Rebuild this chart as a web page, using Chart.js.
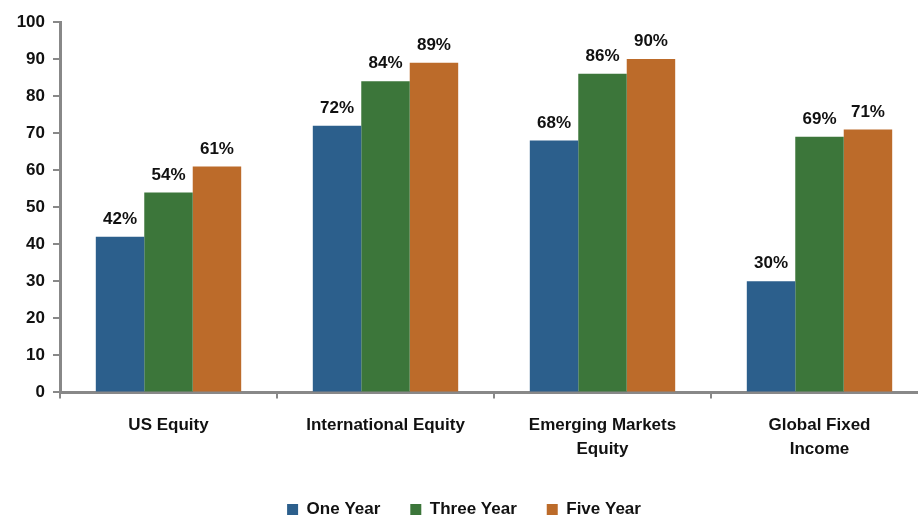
<!DOCTYPE html>
<html><head><meta charset="utf-8">
<script src="https://cdn.jsdelivr.net/npm/chart.js@4/dist/chart.umd.min.js"></script>
<style>html,body{margin:0;padding:0;background:#fff;overflow:hidden;width:918px;height:516px}#wrap{width:928px;height:528px}</style>
</head><body><div id="wrap"><canvas id="c" width="928" height="528"></canvas></div>
<script>
const categories = [["US Equity"], ["International Equity"], ["Emerging Markets", "Equity"], ["Global Fixed", "Income"]];
const oneYear = [42, 72, 68, 30];
const threeYear = [54, 84, 86, 69];
const fiveYear = [61, 89, 90, 71];
const yTicks = [0, 10, 20, 30, 40, 50, 60, 70, 80, 90, 100];

const FONT = "'Liberation Sans', Arial, sans-serif";
const labelPlugin = {
  id: 'barLabels',
  afterDatasetsDraw(chart) {
    const ctx = chart.ctx;
    ctx.save();
    ctx.font = "bold 17px " + FONT;
    ctx.fillStyle = '#111';
    ctx.textAlign = 'center';
    ctx.textBaseline = 'bottom';
    chart.data.datasets.forEach((ds, i) => {
      chart.getDatasetMeta(i).data.forEach((bar, j) => {
        ctx.fillText(ds.data[j] + '%', bar.x, bar.y - 9);
      });
    });
    ctx.restore();
  }
};

new Chart(document.getElementById('c'), {
  type: 'bar',
  data: {
    labels: categories,
    datasets: [
      {label: 'One Year', data: oneYear, backgroundColor: '#2C5F8C'},
      {label: 'Three Year', data: threeYear, backgroundColor: '#3C763A'},
      {label: 'Five Year', data: fiveYear, backgroundColor: '#BC6B2A'}
    ]
  },
  options: {
    responsive: false,
    animation: false,
    devicePixelRatio: 1,
    layout: {padding: {top: 22, right: 0, left: 0, bottom: 0}},
    datasets: {bar: {categoryPercentage: 0.67, barPercentage: 1.0, borderWidth: 0}},
    plugins: {
      tooltip: {enabled: false},
      legend: {
        position: 'bottom',
        labels: {
          boxWidth: 11, boxHeight: 11, padding: 30,
          color: '#111',
          font: {family: FONT, size: 17, weight: 'bold'}
        }
      }
    },
    scales: {
      x: {
        afterFit(scale) { scale.height = scale.height - 5; },
        grid: {display: true, drawOnChartArea: false, drawTicks: true, tickLength: 6, color: '#888', lineWidth: 2, offset: true},
        border: {color: '#888', width: 3},
        ticks: {color: '#111', padding: 15, font: {family: FONT, size: 17, weight: 'bold', lineHeight: 1.4}, maxRotation: 0, autoSkip: false}
      },
      y: {
        min: 0, max: 100,
        afterFit(scale) { scale.width = 60; },
        afterBuildTicks(scale) { scale.ticks = yTicks.map(v => ({value: v})); },
        grid: {display: true, drawOnChartArea: false, drawTicks: true, tickLength: 7, color: '#888', lineWidth: 2},
        border: {color: '#888', width: 3},
        ticks: {color: '#111', padding: 8, font: {family: FONT, size: 17, weight: 'bold'}}
      }
    }
  },
  plugins: [labelPlugin]
});
</script></body></html>
